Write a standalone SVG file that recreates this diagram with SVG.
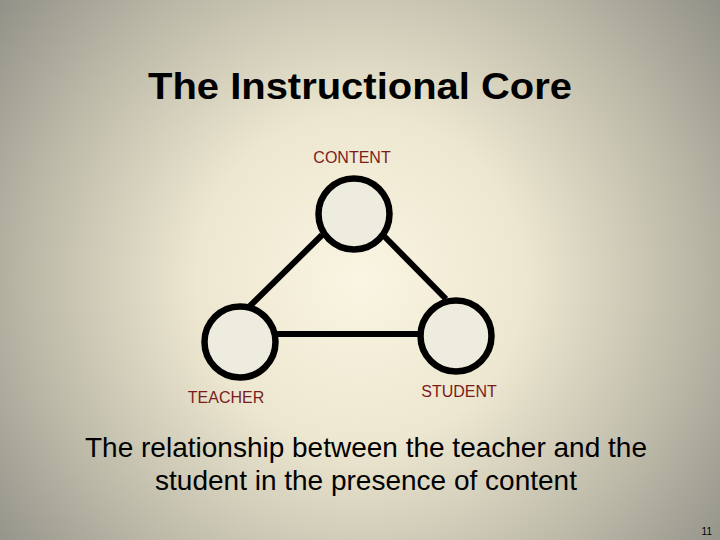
<svg xmlns="http://www.w3.org/2000/svg" width="720" height="540" viewBox="0 0 720 540">
<defs>
<radialGradient id="bg" cx="360" cy="280" r="470" gradientUnits="userSpaceOnUse">
<stop offset="0" stop-color="#faf5e2"/>
<stop offset="0.35" stop-color="#ede7d0"/>
<stop offset="0.7" stop-color="#bcb9a8"/>
<stop offset="1" stop-color="#8e8d84"/>
</radialGradient>
<style>
.node{fill:#eeebdf;stroke:#000;stroke-width:6.5}
.edge{stroke:#000;stroke-width:6;fill:none}
.lbl{font-family:"Liberation Sans",Arial,sans-serif;font-size:16px;fill:#7a1c1c;text-anchor:middle}
.title{font-family:"Liberation Sans",Arial,sans-serif;font-weight:bold;font-size:36px;fill:#000;text-anchor:middle}
.body{font-family:"Liberation Sans",Arial,sans-serif;font-size:28px;fill:#000;text-anchor:middle}
</style>
</defs>
<rect width="720" height="540" fill="url(#bg)"/>
<text class="title" x="360" y="99" textLength="424" lengthAdjust="spacingAndGlyphs">The Instructional Core</text>
<g id="connectors">
<line class="edge" x1="322" y1="235" x2="250" y2="306"/>
<line class="edge" x1="384" y1="236" x2="446" y2="299"/>
<line class="edge" x1="277" y1="334" x2="419" y2="334"/>
</g>
<g id="content">
<circle class="node" cx="354" cy="214" r="35.5"/>
<text class="lbl" x="352" y="163">CONTENT</text>
</g>
<g id="teacher">
<circle class="node" cx="240" cy="342" r="35.5"/>
<text class="lbl" x="226" y="403">TEACHER</text>
</g>
<g id="student">
<circle class="node" cx="456" cy="336" r="35.5"/>
<text class="lbl" x="459" y="397">STUDENT</text>
</g>
<text class="body" x="366" y="457">The relationship between the teacher and the</text>
<text class="body" x="366" y="490">student in the presence of content</text>
<text x="712" y="535" font-family="Liberation Sans,Arial,sans-serif" font-size="10" fill="#000" text-anchor="end">11</text>
</svg>
